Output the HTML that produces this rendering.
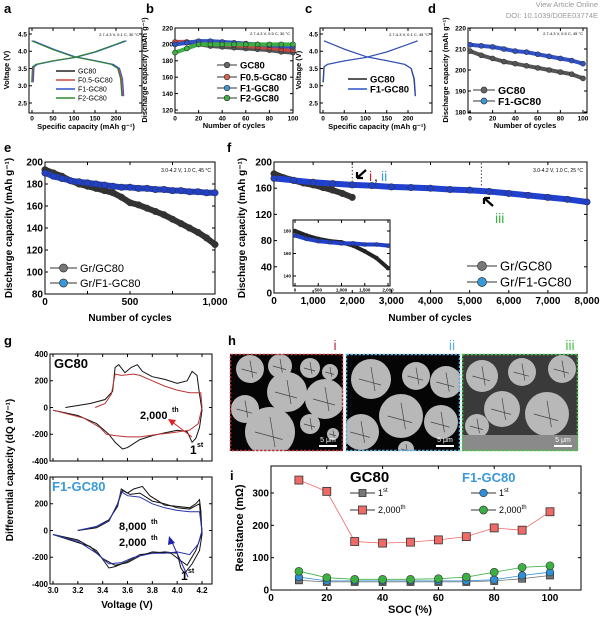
<!DOCTYPE html>
<html><head><meta charset="utf-8">
<style>
html,body{margin:0;padding:0;background:#fff;}
svg{display:block;font-family:"Liberation Sans",Arial,sans-serif;}
</style></head>
<body>
<svg id="fig" width="600" height="617" viewBox="0 0 600 617" xmlns="http://www.w3.org/2000/svg">
<text x="598" y="7" font-size="7.5" fill="#999" text-anchor="end">View Article Online</text>
<text x="598" y="18" font-size="7.5" fill="#999" text-anchor="end">DOI: 10.1039/D0EE03774E</text>
</svg>
<script>
// ---------- DATA ----------
const aCharge=[[0,3.1],[2,3.55],[10,3.62],[50,3.72],[100,3.82],[150,3.98],[200,4.2],[222,4.3]];
const aDischarge=[[0,4.3],[20,4.2],[50,4.05],[100,3.84],[150,3.72],[190,3.62],[205,3.5],[212,3.2],[215,2.7]];
const bCycles=[0,10,20,30,40,50,60,70,80,90,100];
const bGC80=[200,202,200,198,197,196,195,194,193,191,190];
const bF05=[203,203,202,201,200,199,198,197,196,194,193];
const bF1=[200,202,204,204,203,202,201,200,199,198,197];
const bF2=[190,195,200,200,200,200,200,200,200,200,200];
const dCycles=[0,10,20,30,40,50,60,70,80,90,100];
const dGC80=[209,207,205.5,204,203,202,201,200,199,198,196];
const dF1=[212,211.5,211,210,209,208.5,207.5,206.5,205.5,204.5,203];
const eCycles=[0,50,100,150,200,250,300,350,400,450,500,550,600,650,700,750,800,850,900,950,1000];
const eGC80=[193,190,187,183,180,178,176,174,172,168,163,161,158,155,152,148,144,140,136,131,125];
const eF1=[190,187,185,183,182,181,180,179,178,177,177,176,176,175,175,174,174,173,173,172,172];
const fCyclesF1=[0,500,1000,1500,2000,2500,3000,3500,4000,4500,5000,5500,6000,6500,7000,7500,8000];
const fF1=[175,172,169,167,165,164,162,161,160,158,157,155,152,149,146,143,139];
const fCyclesGC=[0,250,500,750,1000,1250,1500,1750,2000];
const fGC80=[182,176,172,168,165,161,157,152,146];
const insetCycles=[0,250,500,750,1000,1250,1500,1750,2000];
const insetGC80=[180,176,173,171,170,167,162,156,147];
const insetF1=[176,173,171,170,169,169,168,168,167];
const gTopBlack=[[3.1,0],[3.3,30],[3.42,60],[3.48,120],[3.5,300],[3.53,320],[3.58,260],[3.63,300],[3.68,320],[3.72,270],[3.8,230],[3.9,210],[4.0,180],[4.08,200],[4.12,270],[4.16,240],[4.18,100],[4.2,-20],[4.18,-150],[4.15,-230],[4.12,-260],[4.08,-180],[4.0,-170],[3.9,-190],[3.8,-210],[3.7,-240],[3.6,-300],[3.56,-310],[3.5,-260],[3.45,-200],[3.35,-120],[3.2,-60],[3.0,-20]];
const gTopRed=[[3.34,0],[3.42,30],[3.47,100],[3.5,250],[3.55,240],[3.65,250],[3.7,240],[3.8,200],[3.9,160],[4.0,130],[4.1,110],[4.19,110],[4.2,0],[4.17,-120],[4.1,-170],[3.95,-190],[3.85,-200],[3.7,-220],[3.6,-220],[3.5,-210],[3.43,-200],[3.38,-150],[3.25,-80],[3.0,-20]];
const gBot1st=[[3.2,0],[3.35,30],[3.45,80],[3.52,180],[3.55,310],[3.6,280],[3.65,310],[3.72,330],[3.78,260],[3.9,190],[4.0,180],[4.1,170],[4.15,200],[4.18,230],[4.19,150],[4.2,-30],[4.18,-150],[4.12,-250],[4.06,-320],[4.03,-280],[4.0,-170],[3.9,-160],[3.8,-170],[3.7,-180],[3.6,-230],[3.5,-270],[3.45,-280],[3.35,-150],[3.2,-70],[3.0,-30]];
const gBot8000=[[3.2,0],[3.35,20],[3.45,70],[3.52,200],[3.56,300],[3.62,270],[3.7,280],[3.8,220],[3.9,200],[4.0,170],[4.1,160],[4.18,200],[4.2,-20],[4.15,-150],[4.08,-260],[4.02,-220],[3.95,-170],[3.8,-160],[3.7,-190],[3.6,-240],[3.5,-260],[3.4,-210],[3.3,-120],[3.0,-30]];
const gBot2000=[[3.2,0],[3.35,30],[3.45,70],[3.52,200],[3.55,290],[3.6,260],[3.7,250],[3.8,200],[3.9,170],[4.0,150],[4.1,140],[4.18,140],[4.2,0],[4.17,-100],[4.1,-180],[4.0,-160],[3.9,-170],[3.8,-170],[3.65,-200],[3.55,-240],[3.45,-250],[3.35,-170],[3.2,-80],[3.0,-30]];
const iSOC=[10,20,30,40,50,60,70,80,90,100];
const iGC1=[30,25,25,25,25,25,25,28,35,45];
const iGC2000=[340,305,150,145,148,155,165,192,185,242];
const iF1_1=[40,28,28,28,28,28,28,32,45,55];
const iF1_2000=[58,38,33,33,33,35,40,55,70,75];

// ---------- HELPERS ----------
const NS='http://www.w3.org/2000/svg';
const svg=document.getElementById('fig');
function mk(tag,attrs,parent){const e=document.createElementNS(NS,tag);for(const k in attrs)e.setAttribute(k,attrs[k]);(parent||svg).appendChild(e);return e;}
function txt(x,y,s,o,parent){const e=mk('text',Object.assign({x:x,y:y,'font-size':9,fill:'#000'},o||{}),parent);e.textContent=s;return e;}
function lin(d0,d1,r0,r1){return v=>r0+(v-d0)/(d1-d0)*(r1-r0);}
function axes(c){
  const g=mk('g',{});
  
  
  const X=lin(c.xd[0],c.xd[1],c.xr[0],c.xr[1]),Y=lin(c.yd[0],c.yd[1],c.yr[0],c.yr[1]);
  const b=c.box;
  const r=mk('rect',{x:b[0],y:b[1],width:b[2]-b[0],height:b[3]-b[1],fill:c.bg||'none',stroke:'#000','stroke-width':c.sw||1},g);
  
  
  const fs=c.fs||8;
  (c.xt||[]).forEach((v,i)=>{const x=X(v);mk('line',{x1:x,x2:x,y1:b[3],y2:b[3]-3,stroke:'#000'},g);mk('line',{x1:x,x2:x,y1:b[1],y2:b[1]+3,stroke:'#000'},g);
    if(c.xl){const t=txt(x,b[3]+fs+(c.xlo||1),c.xl[i],{'font-size':fs,'font-weight':'bold','text-anchor':'middle'},g);}});
  (c.yt||[]).forEach((v,i)=>{const y=Y(v);mk('line',{x1:b[0],x2:b[0]+3,y1:y,y2:y,stroke:'#000'},g);mk('line',{x1:b[2],x2:b[2]-3,y1:y,y2:y,stroke:'#000'},g);
    if(c.yl){const t=txt(b[0]-2,y+fs*0.35,c.yl[i],{'font-size':fs,'font-weight':'bold','text-anchor':'end'},g);}});
  if(c.xtitle){const t=txt(c.xtitle[1],c.xtitle[2],c.xtitle[0],{'font-size':c.tfs||9,'font-weight':'bold','text-anchor':'middle'},g);}
  if(c.ytitle){const t=txt(0,0,c.ytitle[0],{'font-size':c.tfs||9,'font-weight':'bold','text-anchor':'middle',transform:`translate(${c.ytitle[1]},${c.ytitle[2]}) rotate(-90)`},g);}
  return {X,Y,g};
}
function path(ax,pts,o){const d=pts.map((p,i)=>(i?'L':'M')+ax.X(p[0]).toFixed(1)+' '+ax.Y(p[1]).toFixed(1)).join('');return mk('path',Object.assign({d:d,fill:'none'},o),ax.g);}
function series(ax,xs,ys,color,sw,r,name,shape){
  const p=path(ax,xs.map((x,i)=>[x,ys[i]]),{stroke:color,'stroke-width':sw,'stroke-linejoin':'round','stroke-linecap':'round'});
  
  
  xs.forEach((x,i)=>{let m;
    if(shape==='sq'){m=mk('rect',{x:ax.X(x)-r,y:ax.Y(ys[i])-r,width:2*r,height:2*r,fill:color,stroke:'#333','stroke-width':0.8},ax.g);}
    else m=mk('circle',{cx:ax.X(x),cy:ax.Y(ys[i]),r:r,fill:color,stroke:'#333','stroke-width':0.6},ax.g);
    
    });
}
function legend(x1,x2,y,color,label,fs,r,shape,bold,name,tcolor){
  const g=mk('g',{});
  
  
  mk('line',{x1:x1,x2:x2,y1:y,y2:y,stroke:'#333','stroke-width':1},g);
  const cx=(x1+x2)/2;
  if(r){if(shape==='sq')mk('rect',{x:cx-r,y:y-r,width:2*r,height:2*r,fill:color,stroke:'#333','stroke-width':0.8},g);else mk('circle',{cx:cx,cy:y,r:r,fill:color,stroke:'#333','stroke-width':0.7},g);}
  else mk('line',{x1:x1,x2:x2,y1:y,y2:y,stroke:color,'stroke-width':1.5},g);
  const t=txt(x2+3,y+fs*0.36,'',{'font-size':fs,'font-weight':bold?'bold':'normal',fill:tcolor||'#000'},g);
  t.innerHTML=label;
}
function letter(x,y,s){const t=txt(x,y,s,{'font-size':13,'font-weight':'bold'});}
const BLK='#222',RED='#c8463f',BLU='#2f52c8',GRN='#2e8b2e',LBLU='#3a9ad9',GRY='#777';

// ---------- PANEL LETTERS ----------
letter(4,13,'a');letter(146,13,'b');letter(305,13,'c');letter(428,13,'d');
letter(4,152,'e');letter(227,152,'f');letter(4,345,'g');letter(228,345,'h');letter(230,480,'i');

// ---------- a ----------
{const ax=axes({name:'panel-a-voltage-chart',box:[29,28,142,113],xd:[0,200],xr:[32,116],yd:[2.5,4.5],yr:[103,34],
 xt:[0,50,100,150,200],xl:['0','50','100','150','200'],yt:[2.5,3,3.5,4,4.5],yl:['2.5','3.0','3.5','4.0','4.5'],fs:6.5,xlo:0,
 xtitle:['Specific capacity (mAh g\u207B\u00B9)',86,129],ytitle:['Voltage (V)',9,70],tfs:7.5});
 [[BLK,0],[RED,1],[BLU,3],[GRN,-1]].forEach(([c,o],k)=>{
  path(ax,aCharge.map(p=>[p[0]+o,p[1]]),{stroke:c,'stroke-width':1});
  path(ax,aDischarge.map(p=>[p[0]+o*1.2,p[1]]),{stroke:c,'stroke-width':1});});
 txt(139,36,'2.7-4.3 V, 0.1 C, 30 \u00B0C',{'font-size':4,'text-anchor':'end'});
 legend(56,75,71,BLK,'GC80',7,0,null,false,'legend-a-gc80');
 legend(56,75,80,RED,'F0.5-GC80',7,0,null,false,'legend-a-f05');
 legend(56,75,89,BLU,'F1-GC80',7,0,null,false,'legend-a-f1');
 legend(56,75,98,GRN,'F2-GC80',7,0,null,false,'legend-a-f2');}

// ---------- b ----------
{const ax=axes({name:'panel-b-capacity-chart',box:[175,28,293,113],xd:[0,100],xr:[175,293],yd:[120,220],yr:[110,28],
 xt:[0,20,40,60,80,100],xl:['0','20','40','60','80','100'],yt:[120,140,160,180,200,220],yl:['120','140','160','180','200','220'],fs:6.5,xlo:0,
 xtitle:['Number of cycles',234,128],ytitle:['Discharge capacity (mAh g\u207B\u00B9)',147,70],tfs:7.5});
 series(ax,bCycles,bGC80,'#555',4,2.5,'b-gc80');series(ax,bCycles,bF05,RED,4,2.5,'b-f05');
 series(ax,bCycles,bF1,BLU,4,2.5,'b-f1');series(ax,bCycles,bF2,'#3cb043',4,2.5,'b-f2');
 txt(290,35,'2.7-4.3 V, 0.5 C, 30 \u00B0C',{'font-size':4,'text-anchor':'end'});
 legend(217,237,65,'#666','GC80',9.5,2.8,null,true,'legend-b-gc80');
 legend(217,237,77,'#d9634f','F0.5-GC80',9.5,2.8,null,true,'legend-b-f05');
 legend(217,237,88,LBLU,'F1-GC80',9.5,2.8,null,true,'legend-b-f1');
 legend(217,237,98,'#3cb043','F2-GC80',9.5,2.8,null,true,'legend-b-f2');}

// ---------- c ----------
{const ax=axes({name:'panel-c-voltage-chart',box:[320,28,432,113],xd:[0,200],xr:[323,408],yd:[2.5,4.5],yr:[103,34],
 xt:[0,50,100,150,200],xl:['0','50','100','150','200'],yt:[2.5,3,3.5,4,4.5],yl:['2.5','3.0','3.5','4.0','4.5'],fs:6.5,xlo:0,
 xtitle:['Specific capacity (mAh g\u207B\u00B9)',377,129],ytitle:['Voltage (V)',301,70],tfs:7.5});
 path(ax,aCharge,{stroke:BLK,'stroke-width':1});path(ax,aDischarge.map(p=>[p[0]+2,p[1]]),{stroke:BLK,'stroke-width':1});
 path(ax,aCharge.map(p=>[p[0]+1,p[1]]),{stroke:BLU,'stroke-width':1});path(ax,aDischarge.map(p=>[p[0]+3,p[1]]),{stroke:BLU,'stroke-width':1});
 txt(429,36,'2.7-4.3 V, 0.1 C, 45 \u00B0C',{'font-size':4,'text-anchor':'end'});
 legend(348,367,79,BLK,'GC80',9.5,0,null,true,'legend-c-gc80');
 legend(348,367,89,BLU,'F1-GC80',9.5,0,null,true,'legend-c-f1');}

// ---------- d ----------
{const ax=axes({name:'panel-d-capacity-chart',box:[468,28,587,113],xd:[0,100],xr:[470,583],yd:[180,220],yr:[112,28],
 xt:[0,20,40,60,80,100],xl:['0','20','40','60','80','100'],yt:[180,190,200,210,220],yl:['180','190','200','210','220'],fs:6.5,xlo:0,
 xtitle:['Number of cycles',525,128],ytitle:['Discharge capacity (mAh g\u207B\u00B9)',448,70],tfs:7.5});
 series(ax,dCycles,dGC80,'#555',4,2.5,'d-gc80');series(ax,dCycles,dF1,BLU,4,2.5,'d-f1');
 txt(583,35,'2.7-4.3 V, 0.5 C, 45 \u00B0C',{'font-size':4,'text-anchor':'end'});
 legend(473,495,90,'#666','GC80',10.5,3,null,true,'legend-d-gc80');
 legend(473,495,101,LBLU,'F1-GC80',10.5,3,null,true,'legend-d-f1');}

// ---------- e ----------
{const ax=axes({name:'panel-e-capacity-chart',box:[45,162,215,294],xd:[0,1000],xr:[45,215],yd:[80,200],yr:[294,162],
 xt:[0,250,500,750,1000],xl:['0','','500','','1,000'],yt:[80,100,120,140,160,180,200],yl:['80','100','120','140','160','180','200'],fs:10,
 xtitle:['Number of cycles',130,321],ytitle:['Discharge capacity (mAh g\u207B\u00B9)',12,228],tfs:10});
 series(ax,eCycles,eGC80,'#333',6,3.2,'e-gc80');series(ax,eCycles,eF1,'#2040d0',6,3.2,'e-f1');
 txt(211,172,'3.0-4.2 V, 1.0 C, 45 \u00B0C',{'font-size':5,'text-anchor':'end'});
 legend(50,77,268,'#777','Gr/GC80',11,4,null,false,'legend-e-gc80');
 legend(50,77,283,LBLU,'Gr/F1-GC80',11,4,null,false,'legend-e-f1');}

// ---------- f ----------
{const ax=axes({name:'panel-f-capacity-chart',box:[274,162,587,293],xd:[0,8000],xr:[274,587],yd:[0,200],yr:[293,162],
 xt:[0,1000,2000,3000,4000,5000,6000,7000,8000],xl:['0','1,000','2,000','3,000','4,000','5,000','6,000','7,000','8,000'],yt:[0,40,80,120,160,200],yl:['0','40','80','120','160','200'],fs:10,
 xtitle:['Number of cycles',430,321],ytitle:['Discharge capacity (mAh g\u207B\u00B9)',245,228],tfs:10});
 series(ax,fCyclesGC,fGC80,'#333',6,3.2,'f-gc80');series(ax,fCyclesF1,fF1,'#2040d0',6,3.2,'f-f1');
 [2000,5300].forEach(v=>{const l=mk('line',{x1:ax.X(v),x2:ax.X(v),y1:163,y2:186,stroke:'#444','stroke-dasharray':'1.5,2','stroke-width':1},ax.g);});
 txt(583,172,'3.0-4.2 V, 1.0 C, 25 \u00B0C',{'font-size':5,'text-anchor':'end'});
 mk('path',{d:'M366 170 L357 178 M357 178 L357 172 M357 178 L363 178',stroke:'#000','stroke-width':2.2,fill:'none'},ax.g);
 txt(369,181,'i',{'font-size':14,fill:'#c0282d'},ax.g);txt(374,181,',',{'font-size':14},ax.g);txt(381,181,'ii',{'font-size':14,fill:LBLU},ax.g);
 mk('path',{d:'M493 206 L484 198 M484 198 L484 204 M484 198 L490 198',stroke:'#000','stroke-width':2.2,fill:'none'},ax.g);
 txt(495,223,'iii',{'font-size':14,fill:'#3cb043'},ax.g);
 legend(467,497,266,'#777','Gr/GC80',13,4.5,null,false,'legend-f-gc80');
 legend(467,497,282,LBLU,'Gr/F1-GC80',13,4.5,null,false,'legend-f-f1');
 const ins=axes({name:'panel-f-inset-chart',box:[293,220,390,286],bg:'#fff',xd:[0,2000],xr:[295,388],yd:[140,180],yr:[276,231],
  xt:[0,500,1000,1500,2000],xl:['0','500','1,000','1,500','2,000'],yt:[140,160,180],yl:['140','160','180'],fs:4.5});
 series(ins,insetCycles,insetGC80,'#222',4,2,'inset-gc80');series(ins,insetCycles,insetF1,'#2040d0',4,2,'inset-f1');}

// ---------- g ----------
{const yt=[-400,-200,0,200,400],yl=['-400','-200','0','200','400'],xt=[3.0,3.2,3.4,3.6,3.8,4.0,4.2];
 const top=axes({name:'panel-g-gc80-dqdv',box:[50,354,212,461],xd:[3.0,4.2],xr:[53,202],yd:[-400,400],yr:[461,354],yt:yt,yl:yl,xt:xt,fs:8});
 path(top,gTopBlack,{stroke:'#111','stroke-width':1});path(top,gTopRed,{stroke:'#b33','stroke-width':1});
 txt(54,368,'GC80',{'font-size':13,'font-weight':'bold'},top.g);
 txt(140,419,'2,000',{'font-size':11,'font-weight':'bold'},top.g);txt(172,412,'th',{'font-size':7,'font-weight':'bold'},top.g);
 mk('path',{d:'M192 437 L171 421',stroke:'#d22','stroke-width':1},top.g);mk('path',{d:'M168 419 L176 420 L172 426 Z',fill:'#d22'},top.g);
 txt(190,454,'1',{'font-size':12,'font-weight':'bold'},top.g);txt(197,447,'st',{'font-size':7,'font-weight':'bold'},top.g);
 const bot=axes({name:'panel-g-f1gc80-dqdv',box:[50,477,212,584],xd:[3.0,4.2],xr:[53,202],yd:[-400,400],yr:[584,477],yt:yt,yl:yl,xt:xt,
  xl:['3.0','3.2','3.4','3.6','3.8','4.0','4.2'],fs:8,xtitle:['Voltage (V)',127,608],ytitle:['Differential capacity (dQ dV\u207B\u00B9)',13,470],tfs:10});
 path(bot,gBot1st,{stroke:'#111','stroke-width':1});path(bot,gBot8000,{stroke:'#111','stroke-width':1});path(bot,gBot2000,{stroke:'#2233aa','stroke-width':1});
 txt(52,491,'F1-GC80',{'font-size':13,'font-weight':'bold',fill:LBLU},bot.g);
 txt(119,530,'8,000',{'font-size':11,'font-weight':'bold'},bot.g);txt(151,524,'th',{'font-size':7,'font-weight':'bold'},bot.g);
 txt(119,546,'2,000',{'font-size':11,'font-weight':'bold'},bot.g);txt(151,540,'th',{'font-size':7,'font-weight':'bold'},bot.g);
 mk('path',{d:'M188 577 L171 540',stroke:'#22a','stroke-width':1},bot.g);mk('path',{d:'M169 536 L175 543 L168 545 Z',fill:'#22a'},bot.g);
 txt(181,580,'1',{'font-size':12,'font-weight':'bold'},bot.g);txt(188,573,'st',{'font-size':7,'font-weight':'bold'},bot.g);}

// ---------- h (SEM images) ----------
const semI=[[20,15,14],[50,12,12],[80,14,10],[100,18,8],[57,38,20],[95,45,20],[15,55,14],[40,78,25],[80,70,10],[103,80,6]];
const semII=[[25,25,20],[70,22,14],[100,28,16],[55,62,22],[95,68,17],[15,78,18],[60,95,8]];
const semIII=[[20,22,16],[60,18,14],[100,15,14],[40,55,18],[85,60,22],[15,72,12]];
function sem(x0,w,col,circles,bg,label,name){
  const g=mk('g',{});
  
  
  mk('rect',{x:x0,y:354,width:w,height:97,fill:bg},g);
  const cp=mk('clipPath',{id:name+'-clip'},g);mk('rect',{x:x0,y:354,width:w,height:97},cp);
  const cg=mk('g',{'clip-path':`url(#${name}-clip)`},g);
  circles.forEach(c=>{mk('circle',{cx:x0+c[0],cy:354+c[1],r:c[2],fill:'#b8b8b8'},cg);
    mk('path',{d:`M${x0+c[0]-c[2]*0.6} ${354+c[1]} L${x0+c[0]+c[2]*0.5} ${354+c[1]+c[2]*0.3} M${x0+c[0]} ${354+c[1]-c[2]*0.6} L${x0+c[0]+c[2]*0.2} ${354+c[1]+c[2]*0.6}`,stroke:'#444','stroke-width':0.7},cg);});
  if(bg!=='#050505')mk('rect',{x:x0,y:435,width:w,height:16,fill:'#8a8a8a'},cg);
  mk('rect',{x:x0+0.5,y:354.5,width:w-1,height:96,fill:'none',stroke:col,'stroke-width':1.5,'stroke-dasharray':'2.5,1.5'},g);
  mk('rect',{x:x0+w-24,y:445,width:18,height:2,fill:'#fff'},g);
  txt(x0+w-15,442,'5 \u03BCm',{'font-size':7,fill:'#fff','text-anchor':'middle'},g);
  txt(x0+w-8,350,label,{'font-size':14,fill:col,'text-anchor':'middle'},g);
}
sem(230,113,'#b5323a',semI,'#050505','i','sem-image-i');
sem(346,114,'#5aaee0',semII,'#050505','ii','sem-image-ii');
sem(462,116,'#4cbf4c',semIII,'#3a3a3a','iii','sem-image-iii');

// ---------- i ----------
{const ax=axes({name:'panel-i-resistance-chart',box:[271,466,581,590],xd:[0,100],xr:[271,550],yd:[0,300],yr:[590,493],
 xt:[0,20,40,60,80,100],xl:['0','20','40','60','80','100'],yt:[0,100,200,300],yl:['0','100','200','300'],fs:10,
 xtitle:['SOC (%)',410,613],ytitle:['Resistance (m\u03A9)',243,528],tfs:11});
 series(ax,iSOC,iGC1,'#777',0.8,3.5,'i-gc80-1st','sq');
 series(ax,iSOC,iF1_1,'#2f8fd8',0.8,3.8,'i-f1-1st');
 series(ax,iSOC,iF1_2000,'#3cb043',0.8,4,'i-f1-2000th');
 series(ax,iSOC,iGC2000,'#ee6a66',0.8,4,'i-gc80-2000th','sq');
 txt(350,482,'GC80',{'font-size':15,'font-weight':'bold'},ax.g);
 txt(462,482,'F1-GC80',{'font-size':13,'font-weight':'bold',fill:LBLU},ax.g);
 legend(350,375,493,'#777','1<tspan font-size="6" dy="-4">st</tspan>',9,3.5,'sq',false,'legend-i-gc80-1st');
 legend(350,375,510,'#ee6a66','2,000<tspan font-size="6" dy="-4">th</tspan>',9,4,'sq',false,'legend-i-gc80-2000th');
 legend(471,496,493,'#2f8fd8','1<tspan font-size="6" dy="-4">st</tspan>',9,3.8,null,false,'legend-i-f1-1st');
 legend(471,496,510,'#3cb043','2,000<tspan font-size="6" dy="-4">th</tspan>',9,4,null,false,'legend-i-f1-2000th');}
</script>
</body></html>
